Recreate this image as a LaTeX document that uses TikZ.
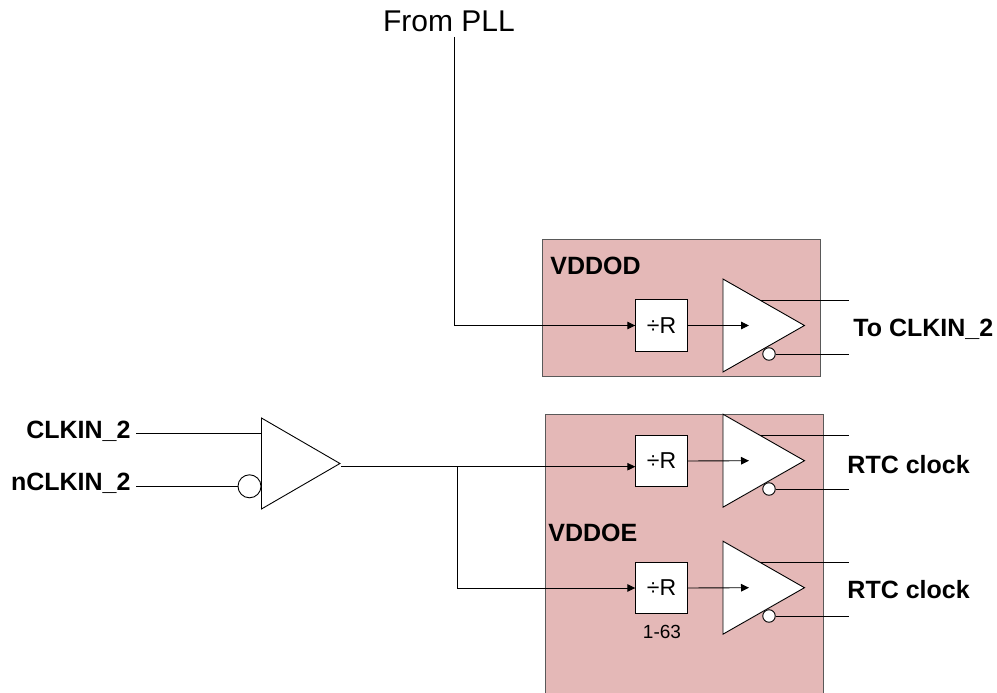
\documentclass[tikz,border=0pt]{standalone}
\usepackage{fontspec}
\setmainfont{Liberation Sans}
\usetikzlibrary{positioning, calc, arrows.meta, shapes.geometric}

\begin{document}
\begin{tikzpicture}[
  x = 1pt, y = -1pt,
  line width = 0.9pt,
  panel/.style = {shape=rectangle, draw=black!65, fill=panelpink, line width=1.2pt, anchor=north west, inner sep=0pt},
  divider/.style = {shape=rectangle, draw, fill=white, minimum size=51.5pt, inner sep=0pt, font=\fontsize{23}{27}\selectfont},
  buffer/.style = {shape=isosceles triangle, isosceles triangle stretches, draw, fill=white, inner sep=0pt, anchor=lower side, minimum width=93pt, minimum height=81.5pt},
  bubble/.style = {shape=circle, draw, fill=white, inner sep=0pt, minimum size=12.5pt},
  signal/.style = {inner sep=0pt, font=\fontsize{25}{30}\bfseries\selectfont},
  wire/.style = {-{Triangle[length=8pt, width=7.5pt]}}
    ]
  \definecolor{panelpink}{HTML}{E4B8B7}
  \clip (0,0) rectangle (997,693);

  \node[panel, minimum width=278pt, minimum height=137pt] (vddod) at (542,239) {};
  \node[panel, minimum width=278pt, minimum height=300pt] (vddoe) at (545,414) {};
  \node[signal, anchor=west] (vddodlabel) at (550,266) {VDDOD};
  \node[signal, anchor=west] (vddoelabel) at (548,533) {VDDOE};

  \node[inner sep=0pt, font=\fontsize{30}{35}\selectfont] (pll) at (449,21) {From PLL};
  \coordinate (pllend) at (454,37);

  \node[divider] (divtop) at (661.5,325.5) {÷R};
  \node[divider] (divmid) at (661.5,461) {÷R};
  \node[divider] (divlow) at (661.5,588) {÷R};
  \node[inner sep=0pt, font=\fontsize{19}{23}\selectfont] (range) at (662,632) {1-63};

  \coordinate (outx) at (849,0);
  \node[buffer] (buftop) at (722.5,325.5) {};
  \node[buffer] (bufmid) at (722.5,460.7) {};
  \node[buffer] (buflow) at (722.5,587.7) {};
  \node[bubble] (invtop) at (769,354) {};
  \node[bubble] (invmid) at (769,489) {};
  \node[bubble] (invlow) at (769,616) {};
  \coordinate (tiptop) at (749,325.5);
  \coordinate (tipmid) at (749,460.7);
  \coordinate (tiplow) at (749,587.7);
  \coordinate (plustop) at ($(buftop.left corner)!.46!(buftop.apex)$);
  \coordinate (plusmid) at ($(bufmid.left corner)!.46!(bufmid.apex)$);
  \coordinate (pluslow) at ($(buflow.left corner)!.46!(buflow.apex)$);

  \node[signal, anchor=west] (toclkin) at (853,329) {To CLKIN\_2};
  \node[signal, anchor=west] (rtcmid) at (847,465) {RTC clock};
  \node[signal, anchor=west] (rtclow) at (847,590) {RTC clock};

  \node[signal, anchor=east] (clkin) at (131,431) {CLKIN\_2};
  \node[signal, anchor=east] (nclkin) at (131,483) {nCLKIN\_2};
  \node[buffer, minimum width=91pt, minimum height=78.5pt] (rx) at (261,463.5) {};
  \node[shape=circle, draw, fill=white, inner sep=0pt, minimum size=23pt] (rxinv) at (249.5,486.3) {};
  \coordinate (clkinend) at (136,433);
  \coordinate (nclkinend) at (136,486.3);
  \coordinate (split) at (457.5,466.7);

  \draw (clkinend) -- (clkinend -| rx.lower side);
  \draw (nclkinend) -- (rxinv.west);
  \draw (split -| rx.apex) -- (split);
  \draw[wire] (split) -- (split -| divmid.west);
  \draw[wire] (split) |- (divlow.west);
  \draw[wire] (pllend) |- (divtop.west);

  \draw[wire] (divtop.east) -- (tiptop);
  \draw[wire] (divmid.east) -- (tipmid);
  \draw[wire] (divlow.east) -- (tiplow);

  \draw (plustop) -- (plustop -| outx);
  \draw (plusmid) -- (plusmid -| outx);
  \draw (pluslow) -- (pluslow -| outx);
  \draw (invtop.east) -- (invtop.east -| outx);
  \draw (invmid.east) -- (invmid.east -| outx);
  \draw (invlow.east) -- (invlow.east -| outx);
\end{tikzpicture}
\end{document}
